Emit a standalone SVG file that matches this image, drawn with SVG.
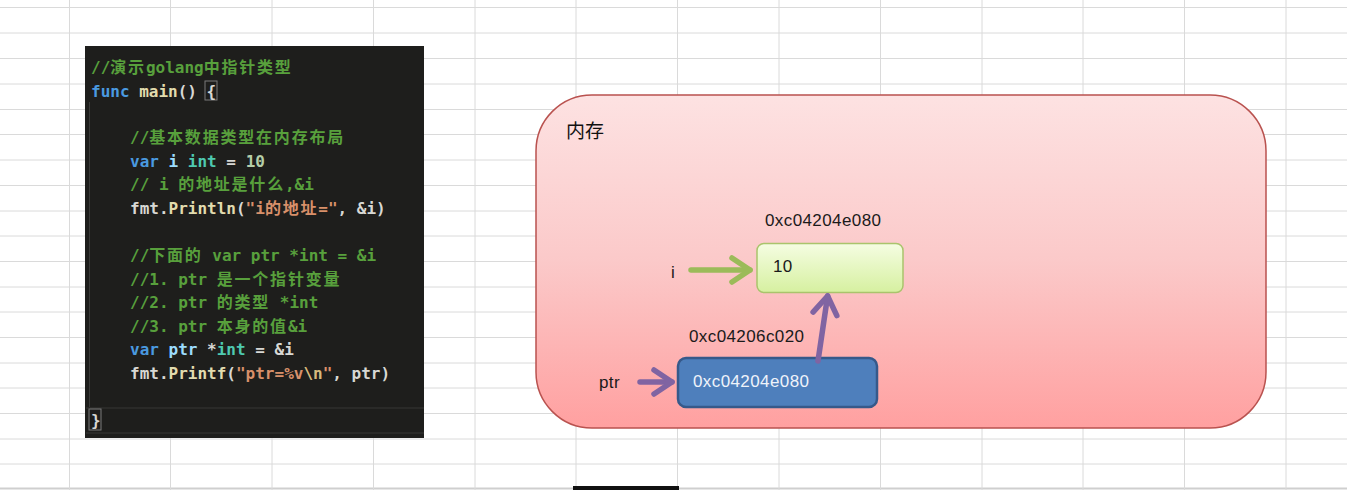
<svg xmlns="http://www.w3.org/2000/svg" width="1347" height="490" viewBox="0 0 1347 490">
<style>
.grid{stroke:#dadada;stroke-width:1}
.code{font-family:"DejaVu Sans Mono","Noto Sans CJK SC",monospace;font-size:16px;font-weight:bold;fill:#d8d8d4}
.cm{fill:#58a03c}
.kw{fill:#4a9ae0}
.fn{fill:#e2dcae}
.vr{fill:#9cdcfe}
.ty{fill:#4ec9b0}
.nm{fill:#b5cea8}
.st{fill:#d8906a}
.es{fill:#d7ba7d}
.cj{letter-spacing:1.8px}
.lbl{font-family:"Liberation Sans",Arial,sans-serif;font-size:17px;letter-spacing:0.4px;fill:#1a1a1a}
.arrow{fill:none;stroke-width:5.5;stroke-linecap:round;stroke-linejoin:round}
.g{stroke:#9bbb59}
.p{stroke:#8064a2}
</style>
<defs>
<linearGradient id="pinkGrad" x1="0" y1="0" x2="0" y2="1">
<stop offset="0" stop-color="#fde2e2"/>
<stop offset="0.5" stop-color="#fbc9c9"/>
<stop offset="1" stop-color="#ffa0a0"/>
</linearGradient>
<linearGradient id="greenGrad" x1="0" y1="0" x2="0" y2="1">
<stop offset="0" stop-color="#f5fde2"/>
<stop offset="1" stop-color="#d6f0a0"/>
</linearGradient>
<marker id="headG" viewBox="-30 -20 40 40" markerWidth="40" markerHeight="40" refX="0" refY="0" orient="auto" markerUnits="userSpaceOnUse">
<path d="M-18,-12 L0,0 L-18,12" fill="none" stroke="#9bbb59" stroke-width="5.5" stroke-linecap="round" stroke-linejoin="round"/>
</marker>
<marker id="headP" viewBox="-30 -20 40 40" markerWidth="40" markerHeight="40" refX="0" refY="0" orient="auto" markerUnits="userSpaceOnUse">
<path d="M-18,-12 L0,0 L-18,12" fill="none" stroke="#8064a2" stroke-width="5.5" stroke-linecap="round" stroke-linejoin="round"/>
</marker>
</defs>
<rect x="0" y="0" width="1347" height="490" fill="#ffffff"/>
<g id="grid" class="grid">
<line x1="0" y1="7.5" x2="1347" y2="7.5"/>
<line x1="0" y1="33" x2="1347" y2="33"/>
<line x1="0" y1="58.5" x2="1347" y2="58.5"/>
<line x1="0" y1="84" x2="1347" y2="84"/>
<line x1="0" y1="109.5" x2="1347" y2="109.5"/>
<line x1="0" y1="134.5" x2="1347" y2="134.5"/>
<line x1="0" y1="160" x2="1347" y2="160"/>
<line x1="0" y1="185.5" x2="1347" y2="185.5"/>
<line x1="0" y1="211" x2="1347" y2="211"/>
<line x1="0" y1="236" x2="1347" y2="236"/>
<line x1="0" y1="261.5" x2="1347" y2="261.5"/>
<line x1="0" y1="287" x2="1347" y2="287"/>
<line x1="0" y1="312" x2="1347" y2="312"/>
<line x1="0" y1="337.5" x2="1347" y2="337.5"/>
<line x1="0" y1="363" x2="1347" y2="363"/>
<line x1="0" y1="388" x2="1347" y2="388"/>
<line x1="0" y1="413.5" x2="1347" y2="413.5"/>
<line x1="0" y1="439" x2="1347" y2="439"/>
<line x1="0" y1="464" x2="1347" y2="464"/>
<line x1="0" y1="488.5" x2="1347" y2="488.5" stroke="#cfcfcf" stroke-width="2"/>
<line x1="69.5" y1="0" x2="69.5" y2="490"/>
<line x1="170.5" y1="0" x2="170.5" y2="490"/>
<line x1="272" y1="0" x2="272" y2="490"/>
<line x1="373.5" y1="0" x2="373.5" y2="490"/>
<line x1="475" y1="0" x2="475" y2="490"/>
<line x1="576" y1="0" x2="576" y2="490"/>
<line x1="677.5" y1="0" x2="677.5" y2="490"/>
<line x1="779" y1="0" x2="779" y2="490"/>
<line x1="880.5" y1="0" x2="880.5" y2="490"/>
<line x1="982" y1="0" x2="982" y2="490"/>
<line x1="1083" y1="0" x2="1083" y2="490"/>
<line x1="1184.5" y1="0" x2="1184.5" y2="490"/>
<line x1="1286" y1="0" x2="1286" y2="490"/>
</g>
<rect x="573" y="486" width="106" height="4" fill="#111111"/>

<g id="code">
<rect x="85" y="46" width="339" height="392" fill="#1e1e1c"/>
<line x1="89.5" y1="102" x2="89.5" y2="407" stroke="#3a3a38" stroke-width="1"/>
<line x1="86" y1="408" x2="424" y2="408" stroke="#2f2f2d" stroke-width="1.5"/>
<line x1="86" y1="433" x2="424" y2="433" stroke="#2f2f2d" stroke-width="1.5"/>
<rect x="205" y="81" width="12" height="19" fill="none" stroke="#7a7a7a" stroke-width="1"/>
<rect x="89" y="409" width="12" height="21" fill="none" stroke="#7a7a7a" stroke-width="1"/>
<text class="code" xml:space="preserve"><tspan x="91" y="73" class="cm">//<tspan class="cj">演示</tspan>golang<tspan class="cj">中指针类型</tspan></tspan><tspan x="91" y="96.5"><tspan class="kw">func</tspan> <tspan class="fn">main</tspan>() {</tspan><tspan x="130" y="143" class="cm">//<tspan class="cj">基本数据类型在内存布局</tspan></tspan><tspan x="130" y="166.5"><tspan class="kw">var</tspan> <tspan class="vr">i</tspan> <tspan class="ty">int</tspan> = <tspan class="nm">10</tspan></tspan><tspan x="130" y="190" class="cm">// i <tspan class="cj">的地址是什么</tspan>,&amp;i</tspan><tspan x="130" y="214">fmt.<tspan class="fn">Println</tspan>(<tspan class="st">"i<tspan class="cj">的地址</tspan>="</tspan>, &amp;i)</tspan><tspan x="130" y="261" class="cm">//<tspan class="cj">下面的</tspan> var ptr *int = &amp;i</tspan><tspan x="130" y="284.5" class="cm">//1. ptr <tspan class="cj">是一个指针变量</tspan></tspan><tspan x="130" y="308" class="cm">//2. ptr <tspan class="cj">的类型</tspan> *int</tspan><tspan x="130" y="331.5" class="cm">//3. ptr <tspan class="cj">本身的值</tspan>&amp;i</tspan><tspan x="130" y="355"><tspan class="kw">var</tspan> <tspan class="vr">ptr</tspan> *<tspan class="ty">int</tspan> = &amp;i</tspan><tspan x="130" y="379">fmt.<tspan class="fn">Printf</tspan>(<tspan class="st">"ptr=%v</tspan><tspan class="es">\n</tspan><tspan class="st">"</tspan>, ptr)</tspan><tspan x="91" y="426">}</tspan></text>
</g>

<g id="memory">
<rect x="536" y="95" width="730" height="333" rx="56" ry="56" fill="url(#pinkGrad)" stroke="#b9524f" stroke-width="1.5"/>
<text x="566" y="138" font-family="'Noto Sans CJK SC',sans-serif" font-size="19" fill="#111111">内存</text>
</g>

<g id="node-i">
<rect x="757" y="243.5" width="146" height="49" rx="7" ry="7" fill="url(#greenGrad)" stroke="#a9c46c" stroke-width="1.5"/>
<text class="lbl" x="773" y="272">10</text>
<text class="lbl" x="765" y="226">0xc04204e080</text>
<text class="lbl" x="671" y="278">i</text>
</g>

<g id="node-ptr">
<rect x="678" y="358" width="199" height="49" rx="8" ry="8" fill="#4e7fbc" stroke="#36598a" stroke-width="2.5"/>
<text class="lbl" x="693" y="387" style="fill:#eef3fa">0xc04204e080</text>
<text class="lbl" x="689" y="342">0xc04206c020</text>
<text class="lbl" x="599" y="388">ptr</text>
</g>

<g id="connectors">
<line class="arrow g" x1="691" y1="270" x2="750" y2="270" marker-end="url(#headG)"/>
<line class="arrow p" x1="818" y1="361" x2="827.6" y2="296" marker-end="url(#headP)"/>
<line class="arrow p" x1="640" y1="382" x2="672" y2="382" marker-end="url(#headP)"/>
</g>
</svg>
